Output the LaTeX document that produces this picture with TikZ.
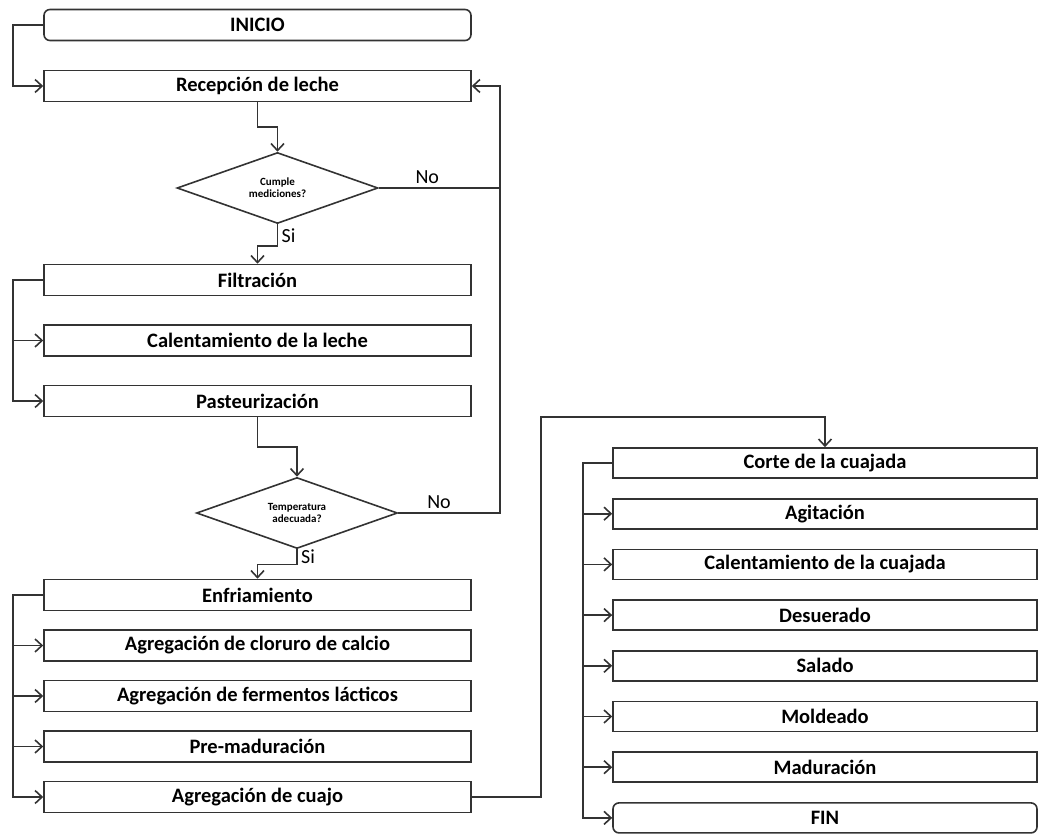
\documentclass[tikz,border=0pt]{standalone}
\usepackage{fontspec}
\setmainfont{Carlito}
\usetikzlibrary{positioning}
\usetikzlibrary{shapes.geometric,arrows.meta}

\tikzset{
  proc/.style={draw=black!80,line width=1.6pt,rectangle,minimum width=427pt,minimum height=31pt,
    inner sep=0pt,font=\bfseries\fontsize{20.5}{23}\selectfont},
  procr/.style={proc,minimum width=424pt,minimum height=30pt},
  term/.style={proc,rounded corners=6pt},
  termr/.style={procr,rounded corners=6pt},
  decis/.style={draw=black!80,line width=1.6pt,diamond,aspect=2.8,minimum width=201pt,
    minimum height=71pt,inner sep=0pt,align=center,font=\bfseries\fontsize{11}{12}\selectfont},
  lbl/.style={font=\fontsize{20}{23}\selectfont},
  conn/.style={draw=black!80,line width=1.6pt},
  >={Straight Barb[length=7pt,width=13pt]}
}

\begin{document}
\begin{tikzpicture}[x=1pt,y=-1pt,node distance=50.7pt,on grid]
   \useasboundingbox (0,0) rectangle (1045,834);
   % columna izquierda
   \node[term] (inicio) at (257.5,25) {INICIO};
   \node[proc] (recep) at (257.5,86) {Recepción de leche};
   \node[decis] (d1) at (277.5,188) {Cumple\\mediciones?};
   \node[proc] (filt) at (257.5,280) {Filtración};
   \node[proc] (calle) [below=60.5pt of filt] {Calentamiento de la leche};
   \node[proc] (past) [below=60.5pt of calle] {Pasteurización};
   \node[decis] (d2) at (297,513) {Temperatura\\adecuada?};
   \node[proc] (enfr) at (257.5,595) {Enfriamiento};
   \node[proc] (clor) [below=50.5pt of enfr] {Agregación de cloruro de calcio};
   \node[proc] (ferm) [below=50.5pt of clor] {Agregación de fermentos lácticos};
   \node[proc] (prem) [below=50.5pt of ferm] {Pre-maduración};
   \node[proc] (cuajo) [below=50.5pt of prem] {Agregación de cuajo};
   % columna derecha
   \node[procr] (corte) at (825,463) {Corte de la cuajada};
   \node[procr] (agit) [below=of corte] {Agitación};
   \node[procr] (calcu) [below=of agit] {Calentamiento de la cuajada};
   \node[procr] (desu) [below=of calcu] {Desuerado};
   \node[procr] (sala) [below=of desu] {Salado};
   \node[procr] (mold) [below=of sala] {Moldeado};
   \node[procr] (madu) [below=of mold] {Maduración};
   \node[termr] (fin) [below=of madu] {FIN};
   \coordinate (ret) at (500,86);

   \draw[conn,->] (inicio.west) -- ++(-30,0) |- (recep.west);
   \draw[conn,->] (recep.south) -- ++(0,25) -| (d1.north);
   \draw[conn,->] (d1.east) -- node[lbl,above,pos=0.4] {No} (d1.east -| ret) -- (ret) -- (recep.east);
   \draw[conn,->] (d1.south) -- node[lbl,right] {Si} ++(0,22) -| (filt.north);
   \draw[conn,->] (filt.west) -- ++(-30,0) coordinate (b1) |- (past.west);
   \draw[conn,->] (b1 |- calle.west) -- (calle.west);
   \draw[conn,->] (past.south) -- ++(0,30) -| (d2.north);
   \draw[conn] (d2.east) -- node[lbl,above,pos=0.4] {No} (d2.east -| ret) -- (d1.east -| ret);
   \draw[conn,->] (d2.south) -- node[lbl,right] {Si} ++(0,15) -| (enfr.north);
   \draw[conn,->] (enfr.west) -- ++(-30,0) coordinate (b2) |- (cuajo.west);
   \foreach \n in {clor,ferm,prem}
     \draw[conn,->] (b2 |- \n.west) -- (\n.west);
   \draw[conn,->] (cuajo.east) -| (541,417) -| (corte.north);
   \draw[conn,->] (corte.west) -- ++(-29,0) coordinate (b3) |- (fin.west);
   \foreach \n in {agit,calcu,desu,sala,mold,madu}
     \draw[conn,->] (b3 |- \n.west) -- (\n.west);
\end{tikzpicture}
\end{document}
